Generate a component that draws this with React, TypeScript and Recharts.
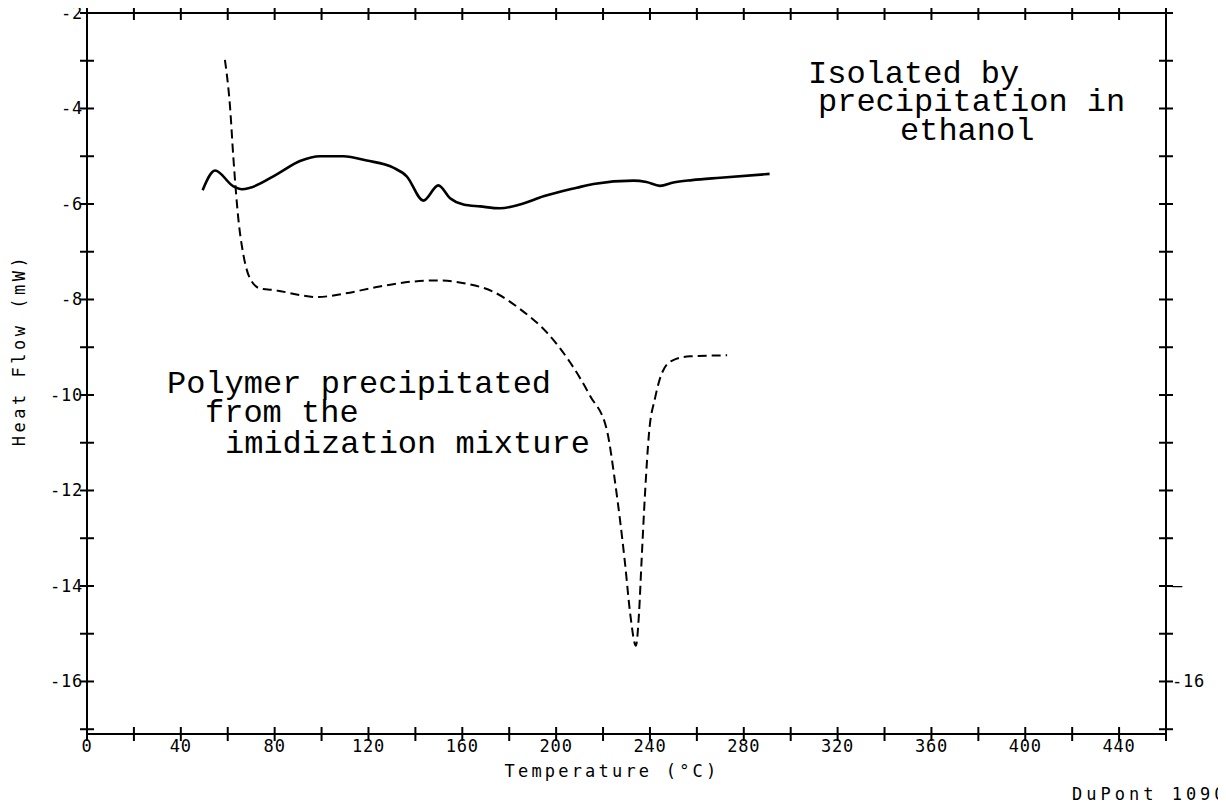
import React from "react";
import { LineChart, Line, XAxis, YAxis } from "recharts";

// Temperature (°C) and heat flow (mW)
const solidTemps = [49.3, 54.6, 62.4, 66.0, 69.5, 80.9, 90.8, 99.4, 109.3, 119.3, 130.6, 136.3, 143.4, 149.8, 154.8, 160.5, 167.6, 176.1, 184.6, 194.6, 208.8, 215.9, 233.0, 238.5, 244.3, 250.0, 258.0, 270.0, 291.0];
const solidHeat = [-5.71, -5.30, -5.63, -5.69, -5.66, -5.38, -5.10, -5.00, -5.00, -5.09, -5.24, -5.42, -5.93, -5.61, -5.88, -6.01, -6.05, -6.09, -6.01, -5.84, -5.66, -5.58, -5.51, -5.54, -5.62, -5.55, -5.50, -5.45, -5.37];

const dashedTemps = [58.8, 61.0, 62.4, 64.5, 66.7, 69.5, 73.8, 80.9, 90.8, 97.9, 109.3, 123.5, 137.7, 149.1, 161.9, 173.3, 184.6, 196.0, 206.0, 214.5, 221.6, 225.2, 229.4, 231.6, 234.0, 235.3, 236.4, 237.9, 239.6, 242.2, 245.2, 249.5, 257.1, 272.9];
const dashedHeat = [-2.98, -3.98, -5.03, -6.30, -7.07, -7.56, -7.77, -7.81, -7.91, -7.95, -7.88, -7.74, -7.63, -7.60, -7.67, -7.84, -8.20, -8.69, -9.32, -10.02, -10.73, -11.85, -13.54, -14.59, -15.25, -14.6, -13.5, -12.06, -10.8, -10.06, -9.53, -9.28, -9.19, -9.17];

const xTicks = [0, 20, 40, 60, 80, 100, 120, 140, 160, 180, 200, 220, 240, 260, 280, 300, 320, 340, 360, 380, 400, 420, 440, 460];
const xLabelTicks = [0, 40, 80, 120, 160, 200, 240, 280, 320, 360, 400, 440];
const yTicks = [-17, -16, -15, -14, -13, -12, -11, -10, -9, -8, -7, -6, -5, -4, -3, -2];
const yLabelTicks = [-16, -14, -12, -10, -8, -6, -4, -2];
const rightLabels: Record<number, string> = { [-16]: "-16", [-14]: "–" };

const solidData = solidTemps.map((t, i) => ({ x: t, y: solidHeat[i] }));
const dashedData = dashedTemps.map((t, i) => ({ x: t, y: dashedHeat[i] }));

const tickFont = "'DejaVu Sans Mono', monospace";
const noteFont = "'Liberation Mono', 'Courier New', monospace";

const BottomTick = (props: any) => {
  const { x, y, payload } = props;
  const v = payload.value;
  return (
    <g>
      <line x1={x} x2={x} y1={y - 7} y2={y + 7} stroke="#000" strokeWidth={2} />
      {xLabelTicks.includes(v) && (
        <text x={x} y={y + 18} textAnchor="middle" fontFamily={tickFont} fontSize={17} letterSpacing={0.8} fill="#000">
          {v}
        </text>
      )}
    </g>
  );
};

const TopTick = (props: any) => {
  const { x, y } = props;
  return <line x1={x} x2={x} y1={y - 7} y2={y + 7} stroke="#000" strokeWidth={2} />;
};

const LeftTick = (props: any) => {
  const { x, y, payload } = props;
  const v = payload.value;
  return (
    <g>
      <line x1={x - 7} x2={x + 7} y1={y} y2={y} stroke="#000" strokeWidth={2} />
      {yLabelTicks.includes(v) && (
        <text x={x - 4} y={y + 6} textAnchor="end" fontFamily={tickFont} fontSize={17} letterSpacing={0.8} fill="#000">
          {v}
        </text>
      )}
    </g>
  );
};

const RightTick = (props: any) => {
  const { x, y, payload } = props;
  const v = payload.value;
  const lab = rightLabels[v];
  return (
    <g>
      <line x1={x - 7} x2={x + 7} y1={y} y2={y} stroke="#000" strokeWidth={2} />
      {lab && (
        <text x={x + 6} y={y + 6} textAnchor="start" fontFamily={tickFont} fontSize={17} letterSpacing={0.8} fill="#000">
          {lab}
        </text>
      )}
    </g>
  );
};

export default function App() {
  const W = 1226;
  const H = 804;
  return (
    <div style={{ position: "relative", width: W, height: H, margin: "-8px 0 0 -8px" }}>
      <LineChart width={W} height={H} margin={{ top: 12, right: 59, bottom: 69, left: 86 }}>
        <XAxis
          xAxisId="bottom"
          type="number"
          dataKey="x"
          domain={[0, 460]}
          ticks={xTicks}
          interval={0}
          height={1}
          tickSize={0}
          tickMargin={0}
          tickLine={false}
          tick={BottomTick}
          axisLine={{ stroke: "#000", strokeWidth: 2 }}
          allowDataOverflow
        />
        <XAxis
          xAxisId="top"
          orientation="top"
          type="number"
          dataKey="x"
          domain={[0, 460]}
          ticks={xTicks}
          interval={0}
          height={1}
          tickSize={0}
          tickMargin={0}
          tickLine={false}
          tick={TopTick}
          axisLine={{ stroke: "#000", strokeWidth: 2 }}
          allowDataOverflow
        />
        <YAxis
          yAxisId="left"
          type="number"
          domain={[-17.1, -2]}
          ticks={yTicks}
          interval={0}
          width={1}
          tickSize={0}
          tickMargin={0}
          tickLine={false}
          tick={LeftTick}
          axisLine={{ stroke: "#000", strokeWidth: 2 }}
          allowDataOverflow
        />
        <YAxis
          yAxisId="right"
          orientation="right"
          type="number"
          domain={[-17.1, -2]}
          ticks={yTicks}
          interval={0}
          width={1}
          tickSize={0}
          tickMargin={0}
          tickLine={false}
          tick={RightTick}
          axisLine={{ stroke: "#000", strokeWidth: 2 }}
          allowDataOverflow
        />
        <Line
          xAxisId="bottom"
          yAxisId="left"
          data={solidData}
          dataKey="y"
          type="monotone"
          stroke="#000"
          strokeWidth={2.6}
          dot={false}
          isAnimationActive={false}
        />
        <Line
          xAxisId="bottom"
          yAxisId="left"
          data={dashedData}
          dataKey="y"
          type="monotone"
          stroke="#000"
          strokeWidth={2}
          strokeDasharray="9 5"
          dot={false}
          isAnimationActive={false}
        />
      </LineChart>
      <svg width={W} height={H} style={{ position: "absolute", left: 0, top: 0, pointerEvents: "none" }}>
        <text x={612} y={777} textAnchor="middle" fontFamily={tickFont} fontSize={17} letterSpacing={3.2} fill="#000">
          Temperature (°C)
        </text>
        <text
          x={19}
          y={350}
          textAnchor="middle"
          dominantBaseline="central"
          transform="rotate(-90, 19, 350)"
          fontFamily={tickFont}
          fontSize={17}
          letterSpacing={3.5}
          fill="#000"
        >
          Heat Flow (mW)
        </text>
        <text x={1072} y={800} fontFamily={tickFont} fontSize={17} letterSpacing={4} fill="#000">
          DuPont 1090
        </text>
        <g fontFamily={noteFont} fontSize={32} fill="#000">
          <text x={808} y={83}>Isolated by</text>
          <text x={818} y={111}>precipitation in</text>
          <text x={900} y={140}>ethanol</text>
          <text x={167} y={393}>Polymer precipitated</text>
          <text x={205} y={422}>from the</text>
          <text x={225} y={453}>imidization mixture</text>
        </g>
      </svg>
    </div>
  );
}
